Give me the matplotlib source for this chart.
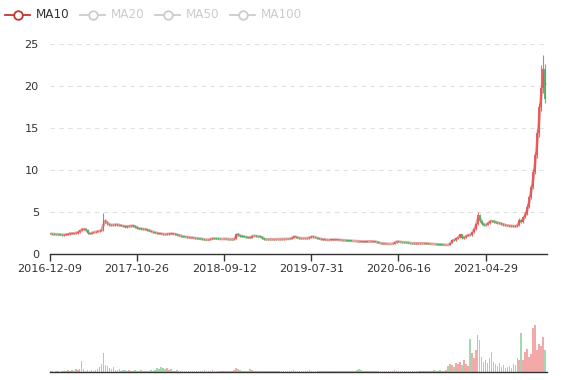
import numpy as np
import pandas as pd
import matplotlib
matplotlib.use('Agg')
import matplotlib.pyplot as plt
from matplotlib.lines import Line2D

# ---- data (one candle ~ one week of trading) ----
tick_labels = ['2016-12-09', '2017-10-26', '2018-09-12', '2019-07-31', '2020-06-16', '2021-04-29']
tick_step = 44  # candles between labelled ticks

closes = [
    2.40, 2.38, 2.36, 2.35, 2.33, 2.30, 2.26, 2.28, 2.32, 2.38,
    2.45, 2.44, 2.48, 2.50, 2.62, 2.80, 2.95, 2.98, 2.85, 2.45,
    2.40, 2.55, 2.60, 2.65, 2.70, 2.78, 2.87, 4.05, 3.80, 3.60,
    3.42, 3.50, 3.45, 3.52, 3.48, 3.40, 3.38, 3.30, 3.25, 3.28,
    3.32, 3.38, 3.35, 3.20, 3.05, 3.02, 3.00, 2.96, 2.94, 2.85,
    2.78, 2.66, 2.60, 2.52, 2.46, 2.44, 2.40, 2.36, 2.34, 2.38,
    2.42, 2.40, 2.40, 2.34, 2.28, 2.20, 2.12, 2.06, 2.04, 2.00,
    1.98, 1.95, 1.92, 1.88, 1.86, 1.84, 1.80, 1.76, 1.70, 1.67,
    1.72, 1.80, 1.86, 1.84, 1.82, 1.80, 1.78, 1.79, 1.80, 1.78,
    1.76, 1.75, 1.74, 1.80, 2.40, 2.25, 2.14, 2.08, 2.04, 2.00,
    1.96, 1.94, 2.18, 2.15, 2.12, 2.10, 2.06, 1.90, 1.75, 1.76,
    1.74, 1.75, 1.74, 1.76, 1.75, 1.77, 1.78, 1.76, 1.78, 1.80,
    1.79, 1.82, 1.95, 2.10, 2.00, 1.92, 1.86, 1.88, 1.86, 1.86,
    1.90, 1.98, 2.10, 2.02, 1.95, 1.86, 1.80, 1.76, 1.72, 1.70,
    1.67, 1.68, 1.70, 1.72, 1.70, 1.69, 1.68, 1.67, 1.65, 1.62,
    1.60, 1.58, 1.56, 1.55, 1.55, 1.52, 1.50, 1.48, 1.47, 1.47,
    1.50, 1.52, 1.50, 1.48, 1.47, 1.40, 1.32, 1.27, 1.24, 1.22,
    1.20, 1.20, 1.19, 1.25, 1.40, 1.50, 1.45, 1.42, 1.40, 1.39,
    1.36, 1.32, 1.28, 1.26, 1.25, 1.26, 1.27, 1.28, 1.27, 1.27,
    1.25, 1.22, 1.20, 1.19, 1.17, 1.15, 1.13, 1.12, 1.10, 1.08,
    1.08, 1.07, 1.30, 1.70, 1.65, 1.85, 2.00, 2.35, 1.85, 2.00,
    2.15, 2.30, 2.25, 2.60, 3.00, 3.60, 4.60, 3.95, 3.60, 3.40,
    3.50, 3.70, 3.95, 3.90, 3.85, 3.75, 3.70, 3.65, 3.55, 3.48,
    3.40, 3.38, 3.35, 3.32, 3.30, 3.30, 3.45, 4.10, 3.80, 4.40,
    4.80, 5.60, 6.80, 8.00, 9.80, 11.8, 14.4, 17.5, 19.8, 22.0, 18.5,
]
spike_highs = {27: 4.9, 94: 2.5, 216: 4.96, 237: 4.3, 241: 5.9, 248: 22.5, 249: 23.7}
wick_share = 0.03  # typical intraweek range beyond the body, as a fraction of price

volumes = [
    1, 1, 0.5, 1, 1, 0.5, 1, 1, 1, 2,
    1, 2, 1, 3, 2, 3, 11, 3, 1, 2,
    1, 2, 1, 2, 3, 5, 8, 19, 7, 6,
    4, 3, 5, 2, 2, 3, 1, 2, 2, 1,
    2, 1, 1, 2, 1, 1, 2, 1, 1, 1,
    1, 2, 1, 2, 4, 3, 5, 4, 3, 4,
    2, 3, 1, 1, 2, 1, 1, 1, 1, 1,
    1, 1, 1, 1, 1, 1, 1, 1, 2, 1,
    1, 1, 2, 1, 1, 1, 1, 1, 1, 1,
    1, 1, 1, 2, 4, 3, 2, 1, 1, 1,
    1, 3, 2, 1, 1, 1, 1, 1, 1, 1,
    1, 1, 1, 1, 1, 1, 1, 1, 1, 1,
    1, 1, 1, 2, 1, 1, 1, 1, 1, 1,
    1, 2, 1, 1, 1, 1, 1, 1, 1, 1,
    1, 1, 1, 1, 1, 1, 1, 1, 1, 1,
    1, 1, 1, 1, 1, 2, 3, 2, 1, 1,
    1, 1, 1, 1, 1, 1, 1, 1, 1, 1,
    1, 1, 1, 1, 2, 1, 1, 1, 1, 1,
    1, 1, 1, 1, 1, 1, 1, 1, 1, 1,
    1, 1, 1, 1, 2, 1, 1, 2, 1, 1,
    2, 6, 8, 7, 5, 9, 8, 10, 7, 12,
    8, 6, 33, 19, 14, 22, 37, 32, 15, 10,
    12, 9, 14, 20, 10, 8, 6, 9, 5, 7,
    4, 5, 6, 4, 8, 7, 14, 12, 39, 12,
    20, 23, 15, 18, 44, 47, 22, 28, 26, 35, 22,
]
legend_names = ['MA10', 'MA20', 'MA50', 'MA100']

# ---- styling ----
UP = '#eb5454'
DOWN = '#47b262'
MA_COLOR = '#c23531'
AXIS = '#333333'
W, H = 577, 380

fig = plt.figure(figsize=(W / 100, H / 100), dpi=100)
fx = lambda px: px / W
fy = lambda py: 1 - py / H

c = np.array(closes, dtype=float)
n = len(c)
idx = np.arange(n)
o = np.r_[c[0], c[:-1]]
body_top = np.maximum(o, c)
body_bot = np.minimum(o, c)
hi = body_top * (1 + wick_share)
lo = body_bot * (1 - wick_share)
for k, v in spike_highs.items():
    hi[k] = max(hi[k], v)
up = c >= o
cols = np.where(up, UP, DOWN)

# price panel
ax = fig.add_axes([fx(50), fy(254), fx(547) - fx(50), fy(44) - fy(254)])
ma = pd.Series(c).rolling(2).mean()  # 2 weekly candles ~ 10 trading days
ax.plot(idx, ma, color=MA_COLOR, alpha=0.45, lw=2.0, zorder=2)
ax.vlines(idx, lo, hi, colors=cols, lw=0.8, alpha=0.85, zorder=3)
ax.bar(idx, np.maximum(body_top - body_bot, 0.05), bottom=body_bot, width=0.8,
       color=cols, lw=0, alpha=0.9, zorder=4)

ax.set_xlim(0, n)
ax.set_ylim(0, 25)
ax.set_yticks([0, 5, 10, 15, 20, 25])
ax.set_xticks([i * tick_step for i in range(len(tick_labels))])
ax.set_xticklabels(tick_labels)
ax.yaxis.grid(True, color='#e0e0e0', ls=(0, (4, 4)), lw=0.8)
ax.set_axisbelow(True)
for s in ['top', 'right', 'left']:
    ax.spines[s].set_visible(False)
ax.spines['bottom'].set_color(AXIS)
ax.spines['bottom'].set_linewidth(1.0)
ax.tick_params(axis='y', length=0, pad=8, labelsize=8.1, labelcolor='#333333')
ax.tick_params(axis='x', length=5, width=1, color=AXIS, pad=2, labelsize=8.1,
               labelcolor='#333333')

# volume panel
axv = fig.add_axes([fx(50), fy(372), fx(547) - fx(50), fy(320) - fy(372)])
axv.bar(idx, volumes, width=0.8, color=cols, alpha=0.5, lw=0)
axv.set_xlim(0, n)
axv.set_ylim(0, 52)
axv.set_xticks([])
axv.set_yticks([])
for s in ['top', 'right', 'left']:
    axv.spines[s].set_visible(False)
axv.spines['bottom'].set_color(AXIS)
axv.spines['bottom'].set_linewidth(1.0)

# legend
starts = [5, 80, 155, 230]
for name, x0, active in zip(legend_names, starts, [True, False, False, False]):
    col = MA_COLOR if active else '#cccccc'
    yc = fy(14.5)
    fig.add_artist(Line2D([fx(x0), fx(x0 + 25)], [yc, yc], color=col, lw=1.3,
                          transform=fig.transFigure))
    fig.add_artist(Line2D([fx(x0 + 12.5)], [yc], marker='o', ms=6.2, mfc='white',
                          mec=col, mew=1.3, transform=fig.transFigure))
    fig.text(fx(x0 + 31), yc, name, fontsize=8.64, va='center', ha='left',
             color='#333333' if active else '#cccccc')

fig.savefig('out.png', dpi=100)
